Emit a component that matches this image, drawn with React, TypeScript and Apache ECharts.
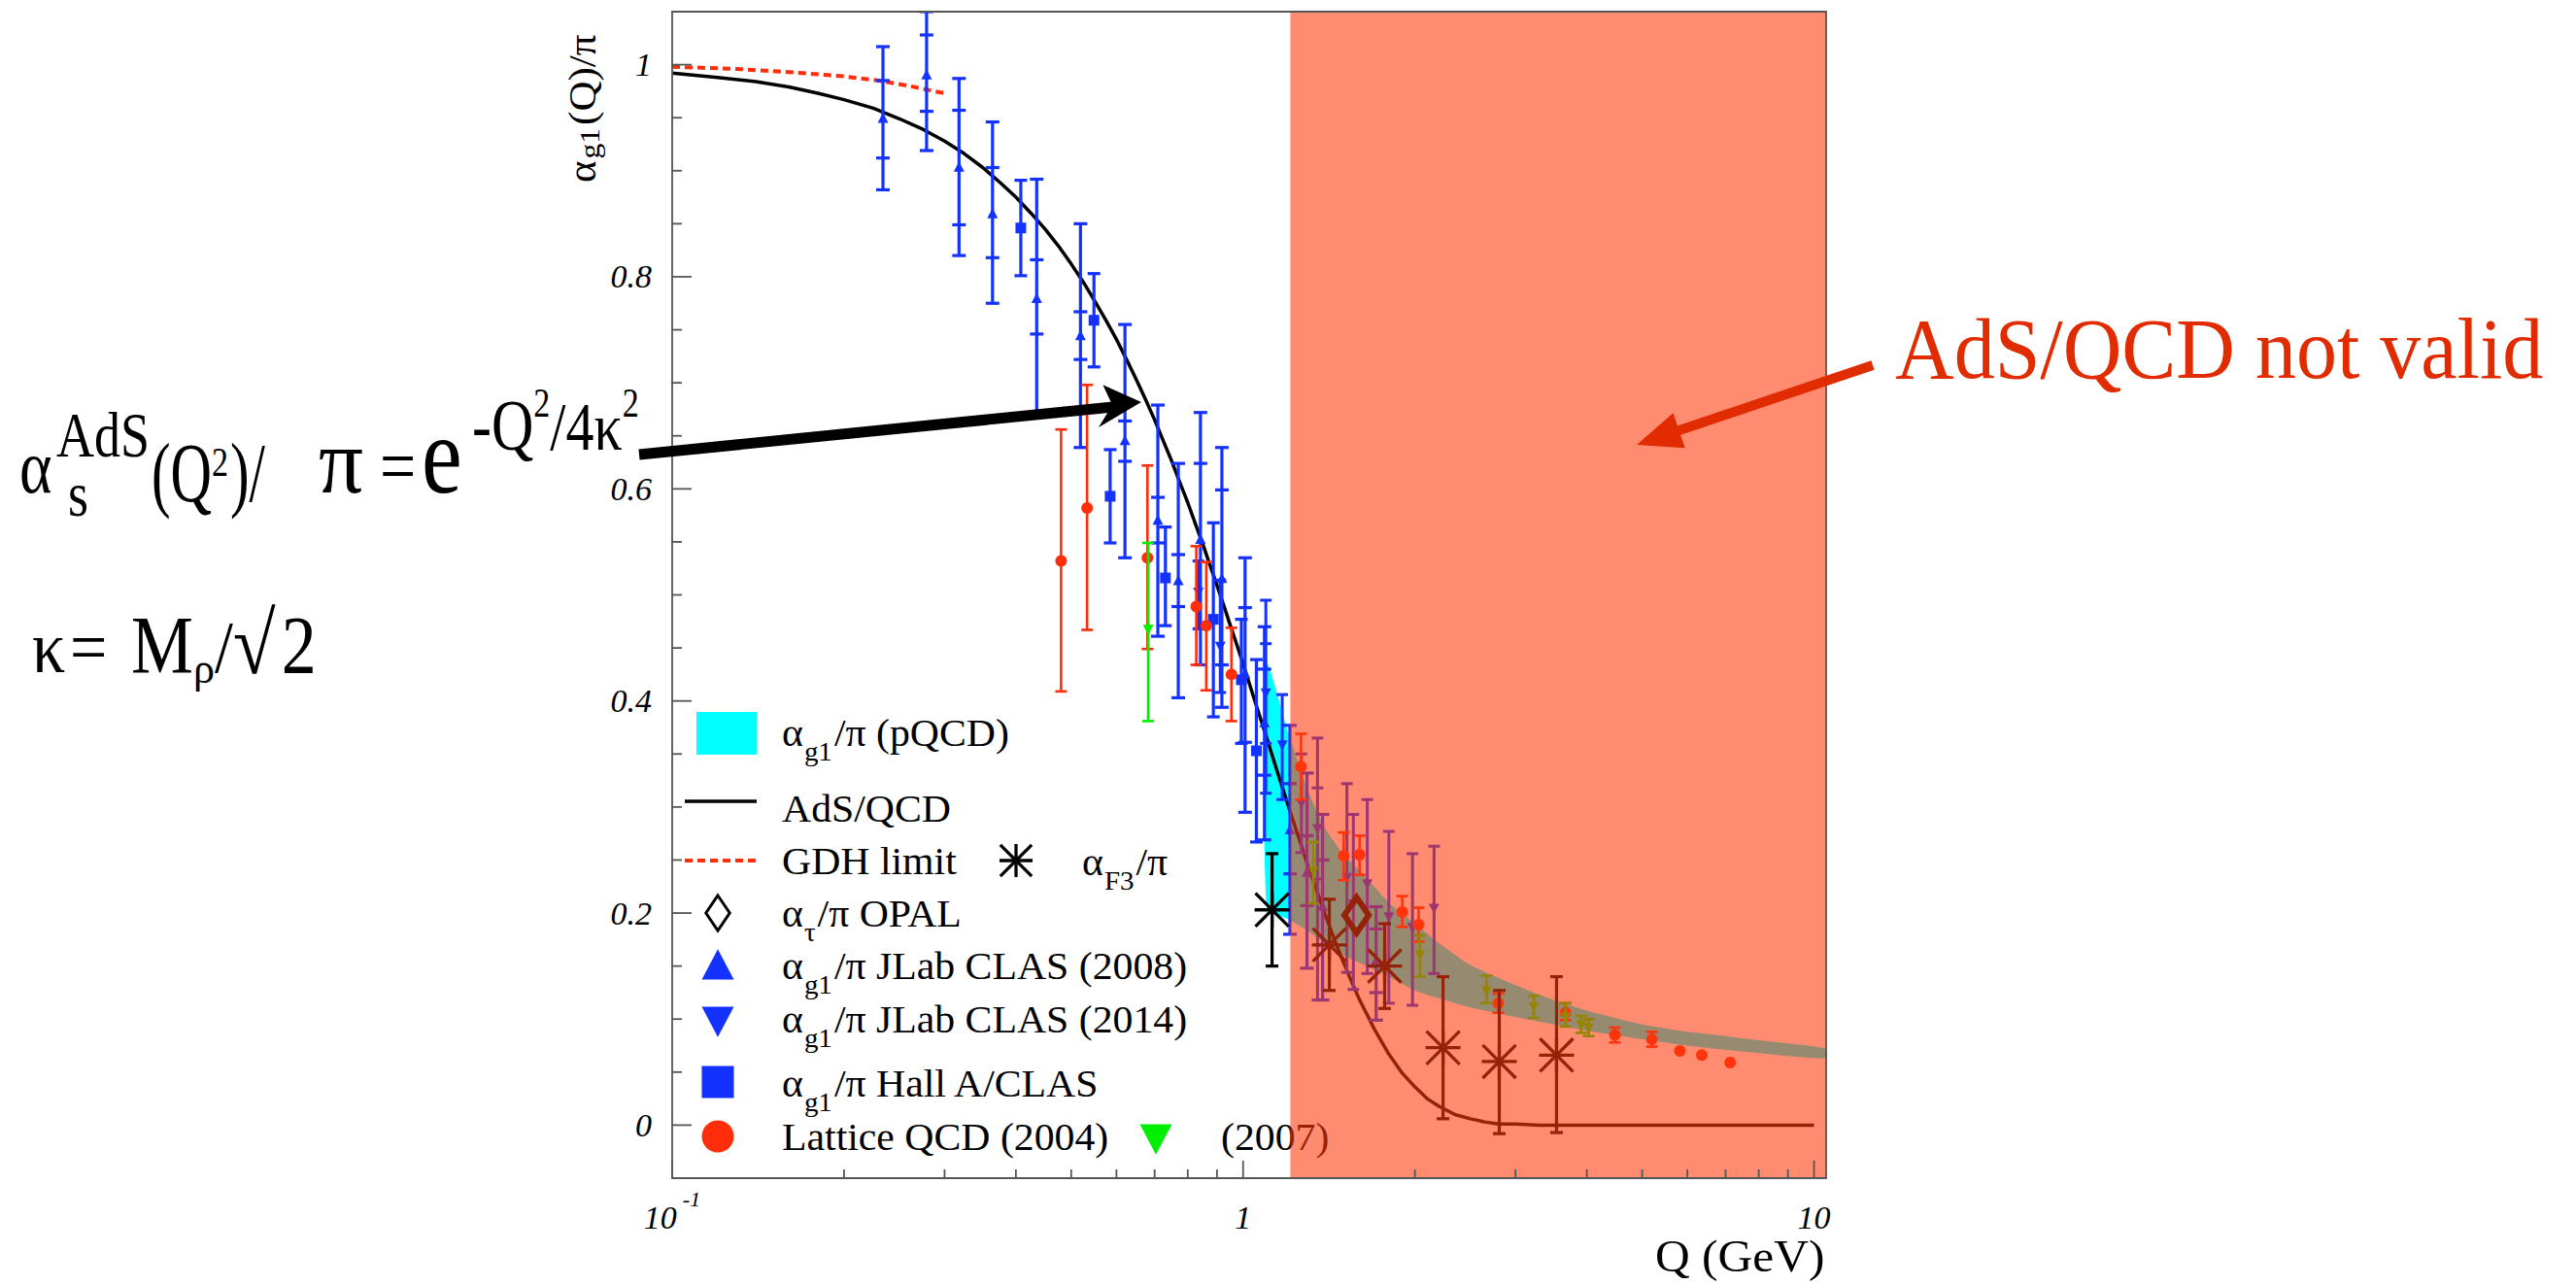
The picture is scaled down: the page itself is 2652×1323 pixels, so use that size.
import React, { useEffect, useRef } from 'react';
import * as echarts from 'echarts';

const SERIF = '"Liberation Serif", "Times New Roman", Times, serif';

// Axis extents: Q (GeV) on a log scale, alpha/pi linear
const X_MIN = 0.1;
const X_MAX = 10.5;
const Y_MIN = -0.05;
const Y_MAX = 1.05;

const xMajorTicks = [0.1, 1, 10];
const xMajorLabels = ['{m|10}{e|-1}', '{m|1}', '{m|10}'];
const xMinorTicks = [0.2, 0.3, 0.4, 0.5, 0.6, 0.7, 0.8, 0.9, 2, 3, 4, 5, 6, 7, 8, 9];
const yMajorTicks = [0, 0.2, 0.4, 0.6, 0.8, 1];
const yMajorLabels = ['0', '0.2', '0.4', '0.6', '0.8', '1'];
const yMinorTicks = [0.05, 0.1, 0.15, 0.25, 0.3, 0.35, 0.45, 0.5, 0.55, 0.65, 0.7, 0.75, 0.85, 0.9, 0.95];

// Q above which the AdS/QCD coupling is not valid
const adsInvalidFrom = 1.21;

// AdS/QCD coupling
const adsQ = [0.1, 0.12, 0.14, 0.16, 0.18, 0.2, 0.225, 0.25, 0.275, 0.3, 0.325, 0.35, 0.375, 0.4, 0.425, 0.45, 0.475, 0.5, 0.525, 0.55, 0.575, 0.6, 0.625, 0.65, 0.675, 0.7, 0.725, 0.75, 0.775, 0.8, 0.825, 0.85, 0.875, 0.9, 0.925, 0.95, 0.975, 1.0, 1.05, 1.1, 1.15, 1.2, 1.25, 1.3, 1.35, 1.4, 1.45, 1.5, 1.55, 1.6, 1.7, 1.8, 1.9, 2.0, 2.1, 2.2, 2.35, 2.5, 2.65, 2.8, 3.0, 3.3, 3.7, 4.5, 6, 10];
const adsAlpha = [0.992, 0.988, 0.984, 0.979, 0.973, 0.967, 0.959, 0.949, 0.939, 0.928, 0.916, 0.903, 0.889, 0.875, 0.86, 0.845, 0.829, 0.812, 0.795, 0.777, 0.759, 0.741, 0.722, 0.703, 0.684, 0.665, 0.645, 0.626, 0.606, 0.587, 0.567, 0.548, 0.528, 0.509, 0.49, 0.471, 0.453, 0.435, 0.399, 0.365, 0.332, 0.301, 0.272, 0.244, 0.219, 0.195, 0.173, 0.153, 0.135, 0.118, 0.09, 0.067, 0.049, 0.036, 0.025, 0.018, 0.01, 0.006, 0.003, 0.001, 0.001, 0, 0, 0, 0, 0];

// GDH sum-rule limit
const gdhQ = [0.1, 0.13, 0.16, 0.2, 0.23, 0.26, 0.3];
const gdhAlpha = [0.998, 0.996, 0.993, 0.989, 0.985, 0.98, 0.973];

// pQCD band
const pqcdQ = [1.1, 1.2, 1.3, 1.4, 1.5, 1.6, 1.8, 2.0, 2.25, 2.5, 3.0, 3.5, 4.0, 5.0, 6.0, 7.0, 8.0, 10.5];
const pqcdUpper = [0.435, 0.37, 0.315, 0.278, 0.255, 0.24, 0.21, 0.19, 0.168, 0.151, 0.132, 0.118, 0.108, 0.095, 0.088, 0.084, 0.08, 0.072];
const pqcdLower = [0.205, 0.194, 0.183, 0.17, 0.16, 0.153, 0.14, 0.127, 0.118, 0.111, 0.102, 0.095, 0.089, 0.081, 0.075, 0.071, 0.068, 0.063];

// JLab CLAS (2008): value, statistical band, total band
const clas08Q = [0.234, 0.279, 0.318, 0.364, 0.435, 0.519, 0.621, 0.709, 0.77, 0.842, 0.918, 1.008, 1.09, 1.208, 1.294, 1.378, 1.71];
const clas08V = [0.949, 0.99, 0.903, 0.859, 0.779, 0.744, 0.645, 0.57, 0.513, 0.552, 0.515, 0.425, 0.379, 0.278, 0.238, 0.206, 0.155];
const clas08StatLo = [0.912, 0.956, 0.849, 0.818, 0.746, 0.722, 0.626, 0.549, 0.489, 0.468, 0.434, 0.361, 0.33, 0.237, 0.207, 0.17, 0.125];
const clas08StatHi = [0.985, 1.028, 0.957, 0.903, 0.816, 0.767, 0.664, 0.592, 0.538, 0.624, 0.599, 0.488, 0.43, 0.322, 0.273, 0.25, 0.185];
const clas08Lo = [0.882, 0.919, 0.82, 0.775, 0.67, 0.639, 0.535, 0.461, 0.403, 0.434, 0.394, 0.295, 0.269, 0.18, 0.148, 0.118, 0.099];
const clas08Hi = [1.017, 1.05, 0.987, 0.946, 0.892, 0.85, 0.755, 0.679, 0.624, 0.672, 0.639, 0.535, 0.47, 0.377, 0.332, 0.293, 0.206];

// JLab CLAS (2014)
const clas14Q = [0.835, 0.912, 1.096, 1.171, 1.265, 1.35, 1.52, 1.56, 1.65, 1.8, 1.98, 2.16];
const clas14V = [0.503, 0.452, 0.408, 0.359, 0.304, 0.28, 0.234, 0.209, 0.228, 0.197, 0.187, 0.205];
const clas14StatLo = [null, null, 0.36, null, null, 0.232, null, null, null, null, null, null];
const clas14StatHi = [null, null, 0.454, null, null, 0.318, null, null, null, null, null, null];
const clas14Lo = [0.468, 0.408, 0.313, 0.307, 0.257, 0.118, 0.144, 0.128, 0.143, 0.115, 0.113, 0.143];
const clas14Hi = [0.532, 0.514, 0.495, 0.406, 0.35, 0.365, 0.322, 0.293, 0.307, 0.277, 0.256, 0.263];

// Hall A / CLAS
const hallQ = [0.408, 0.548, 0.585, 0.731, 0.887, 0.993, 1.055];
const hallV = [0.846, 0.759, 0.593, 0.516, 0.477, 0.42, 0.353];
const hallLo = [0.801, 0.715, 0.549, 0.471, 0.385, 0.36, 0.267];
const hallHi = [0.891, 0.803, 0.637, 0.564, 0.568, 0.477, 0.439];

// Lattice QCD (2004)
const lat04Q = [0.48, 0.533, 0.68, 0.828, 0.862, 0.954, 1.263, 1.5, 1.6, 1.9, 2.03, 2.8, 3.67, 4.48, 5.2, 5.82, 6.36, 7.13];
const lat04V = [0.532, 0.582, 0.535, 0.489, 0.471, 0.425, 0.338, 0.254, 0.255, 0.201, 0.189, 0.115, 0.106, 0.085, 0.081, 0.07, 0.066, 0.059];
const lat04Lo = [0.409, 0.467, 0.449, 0.434, 0.41, 0.381, 0.307, 0.231, 0.236, 0.187, 0.173, 0.106, 0.099, 0.078, 0.074, null, null, null];
const lat04Hi = [0.656, 0.698, 0.622, 0.546, 0.531, 0.469, 0.369, 0.276, 0.273, 0.216, 0.205, 0.124, 0.115, 0.092, 0.088, null, null, null];

// Lattice QCD (2007)
const lat07Q = [0.682, 1.327, 2.04, 2.67, 3.23, 3.67, 3.91, 4.03];
const lat07V = [0.468, 0.24, 0.161, 0.127, 0.112, 0.102, 0.095, 0.092];
const lat07Lo = [0.381, 0.209, 0.14, 0.115, 0.101, 0.093, 0.087, 0.084];
const lat07Hi = [0.549, 0.267, 0.179, 0.141, 0.122, 0.115, 0.103, 0.1];

// alpha_F3 / pi
const f3Q = [1.124, 1.416, 1.77, 2.24, 2.81, 3.54];
const f3V = [0.203, 0.17, 0.15, 0.073, 0.06, 0.066];
const f3Lo = [0.15, 0.127, 0.11, 0.006, -0.008, -0.007];
const f3Hi = [0.256, 0.213, 0.19, 0.14, 0.127, 0.14];

// alpha_tau / pi from OPAL
const opalQ = [1.58];
const opalV = [0.198];

const BLUE = '#1432ff';
const RED = '#ff2d0a';
const GREEN = '#00ee00';
const CYAN = '#00ffff';
const BLACK = '#000000';
const OVERLAY = 'rgba(255, 58, 12, 0.59)';
const FRAME = '#555555';
const NOTE_RED = '#e12b00';

let measureCtx: CanvasRenderingContext2D | null = null;
function textWidth(t: string, fs: number, italic: boolean) {
  if (!measureCtx) measureCtx = document.createElement('canvas').getContext('2d');
  if (!measureCtx) return t.length * fs * 0.5;
  measureCtx.font = `${italic ? 'italic ' : ''}${fs}px ${SERIF}`;
  return measureCtx.measureText(t).width;
}

interface Piece { t: string; fs: number; dy?: number; dx?: number; sy?: number; sx?: number }
interface RunOpts { sx?: number; sy?: number; fill?: string; z?: number; italic?: boolean }

// Lays out a run of text pieces along a common baseline
function textRun(x0: number, base: number, pieces: Piece[], o: RunOpts = {}) {
  const out: any[] = [];
  let x = x0;
  for (const p of pieces) {
    const sx = p.sx ?? o.sx ?? 1;
    x += p.dx ?? 0;
    out.push({
      type: 'text',
      x,
      y: base + (p.dy ?? 0),
      scaleX: sx,
      scaleY: p.sy ?? o.sy ?? 1,
      z: o.z ?? 100,
      silent: true,
      style: {
        text: p.t,
        x: 0,
        y: -0.34 * p.fs,
        fontSize: p.fs,
        fontFamily: SERIF,
        fontStyle: o.italic ? 'italic' : 'normal',
        fill: o.fill ?? BLACK,
        align: 'left',
        verticalAlign: 'middle',
      },
    });
    x += textWidth(p.t, p.fs, !!o.italic) * sx;
  }
  return out;
}

type MarkerKind = 'up' | 'down' | 'square' | 'circle' | 'star' | 'diamond';

function markerEls(kind: MarkerKind, cx: number, cy: number, size: number, color: string, lw: number): any[] {
  const seg = (x1: number, y1: number, x2: number, y2: number) => ({
    type: 'line',
    shape: { x1, y1, x2, y2 },
    style: { stroke: color, lineWidth: lw },
  });
  switch (kind) {
    case 'up': {
      const h = size * 0.95;
      return [{ type: 'polygon', shape: { points: [[cx, cy - 0.6 * h], [cx - size / 2, cy + 0.4 * h], [cx + size / 2, cy + 0.4 * h]] }, style: { fill: color } }];
    }
    case 'down': {
      const h = size * 0.95;
      return [{ type: 'polygon', shape: { points: [[cx - size / 2, cy - 0.4 * h], [cx + size / 2, cy - 0.4 * h], [cx, cy + 0.6 * h]] }, style: { fill: color } }];
    }
    case 'square':
      return [{ type: 'rect', shape: { x: cx - size / 2, y: cy - size / 2, width: size, height: size }, style: { fill: color } }];
    case 'circle':
      return [{ type: 'circle', shape: { cx, cy, r: size / 2 }, style: { fill: color } }];
    case 'star': {
      const r = size;
      const d = size * 0.95;
      return [seg(cx - r, cy, cx + r, cy), seg(cx, cy - r, cx, cy + r), seg(cx - d, cy - d, cx + d, cy + d), seg(cx - d, cy + d, cx + d, cy - d)];
    }
    case 'diamond': {
      const hh = size / 2;
      const hw = hh * 0.68;
      return [{ type: 'polygon', shape: { points: [[cx, cy - hh], [cx + hw, cy], [cx, cy + hh], [cx - hw, cy]] }, style: { fill: 'none', stroke: color, lineWidth: lw, lineJoin: 'miter' } }];
    }
  }
  return [];
}

interface ErrStyle { color: string; lw: number; cap: number; size: number; markerLw?: number }

// Points with vertical error bars (total, plus optional inner statistical ticks)
function errorSeries(
  name: string,
  q: number[],
  v: number[],
  lo: (number | null)[] | null,
  hi: (number | null)[] | null,
  sLo: (number | null)[] | null,
  sHi: (number | null)[] | null,
  kind: MarkerKind,
  st: ErrStyle,
) {
  return {
    type: 'custom',
    name,
    z: 4,
    clip: true,
    silent: true,
    data: q.map((x, i) => [x, v[i]]),
    renderItem: (params: any, api: any) => {
      const i = params.dataIndex;
      const x = q[i];
      const c = api.coord([x, v[i]]);
      const kids: any[] = [];
      const line = (x1: number, y1: number, x2: number, y2: number) => ({
        type: 'line',
        shape: { x1, y1, x2, y2 },
        style: { stroke: st.color, lineWidth: st.lw },
      });
      const l = lo ? lo[i] : null;
      const h = hi ? hi[i] : null;
      if (l != null && h != null) {
        const pl = api.coord([x, l]);
        const ph = api.coord([x, h]);
        kids.push(line(pl[0], pl[1], ph[0], ph[1]));
        kids.push(line(pl[0] - st.cap / 2, pl[1], pl[0] + st.cap / 2, pl[1]));
        kids.push(line(ph[0] - st.cap / 2, ph[1], ph[0] + st.cap / 2, ph[1]));
      }
      const a = sLo ? sLo[i] : null;
      const b = sHi ? sHi[i] : null;
      if (a != null && b != null) {
        const pa = api.coord([x, a]);
        const pb = api.coord([x, b]);
        kids.push(line(pa[0] - st.cap / 2, pa[1], pa[0] + st.cap / 2, pa[1]));
        kids.push(line(pb[0] - st.cap / 2, pb[1], pb[0] + st.cap / 2, pb[1]));
      }
      kids.push(...markerEls(kind, c[0], c[1], st.size, st.color, st.markerLw ?? st.lw));
      return { type: 'group', children: kids };
    },
  };
}

function fmtX(v: number) {
  const i = xMajorTicks.findIndex((t) => Math.abs(v - t) < 1e-6 * t);
  return i >= 0 ? xMajorLabels[i] : '';
}
function fmtY(v: number) {
  const i = yMajorTicks.findIndex((t) => Math.abs(v - t) < 1e-6);
  return i >= 0 ? yMajorLabels[i] : '';
}

function buildOption() {
  const withZ = (els: any[], z: number) => els.map((e) => ({ ...e, z, silent: true }));

  const legend: any[] = [
    { type: 'rect', z: 1, shape: { x: 717, y: 733, width: 62, height: 44 }, style: { fill: CYAN } },
    { type: 'line', z: 1, shape: { x1: 705, y1: 825, x2: 779, y2: 825 }, style: { stroke: BLACK, lineWidth: 3.5 } },
    { type: 'line', z: 1, shape: { x1: 705, y1: 886, x2: 779, y2: 886 }, style: { stroke: RED, lineWidth: 4, lineDash: [8, 5] } },
    ...withZ(markerEls('star', 1046, 886, 17, BLACK, 3.3), 1),
    ...withZ(markerEls('diamond', 739, 940, 36, BLACK, 3), 1),
    ...withZ(markerEls('up', 739, 996, 33, BLUE, 1), 1),
    ...withZ(markerEls('down', 739, 1049, 33, BLUE, 1), 1),
    ...withZ(markerEls('square', 739, 1114, 33, BLUE, 1), 1),
    ...withZ(markerEls('circle', 739, 1170, 33, RED, 1), 1),
    ...withZ(markerEls('down', 1190, 1170, 33, GREEN, 1), 1),
  ];
  const lg = { sx: 1.16, sy: 1.1, z: 1 };
  const sub = (t: string): Piece => ({ t, fs: 25, dy: 15, dx: 1 });
  const legendText = [
    ...textRun(805, 768, [{ t: 'α', fs: 36 }, sub('g1'), { t: '/π (pQCD)', fs: 36, dx: 2 }], lg),
    ...textRun(805, 846, [{ t: 'AdS/QCD', fs: 36 }], lg),
    ...textRun(805, 900, [{ t: 'GDH limit', fs: 36 }], lg),
    ...textRun(1114, 901, [{ t: 'α', fs: 36 }, sub('F3'), { t: '/π', fs: 36, dx: 2 }], lg),
    ...textRun(805, 954, [{ t: 'α', fs: 36 }, sub('τ'), { t: '/π OPAL', fs: 36, dx: 2 }], lg),
    ...textRun(805, 1008, [{ t: 'α', fs: 36 }, sub('g1'), { t: '/π JLab CLAS (2008)', fs: 36, dx: 2 }], lg),
    ...textRun(805, 1063, [{ t: 'α', fs: 36 }, sub('g1'), { t: '/π JLab CLAS (2014)', fs: 36, dx: 2 }], lg),
    ...textRun(805, 1129, [{ t: 'α', fs: 36 }, sub('g1'), { t: '/π Hall A/CLAS', fs: 36, dx: 2 }], lg),
    ...textRun(805, 1184, [{ t: 'Lattice QCD (2004)', fs: 36 }], lg),
    ...textRun(1257, 1184, [{ t: '(2007)', fs: 36 }], lg),
  ];

  // Formula for the AdS/QCD coupling
  const f1 = { sy: 1.22 };
  const formula = [
    ...textRun(20, 507, [{ t: 'α', fs: 64 }], f1),
    ...textRun(58, 470, [{ t: 'AdS', fs: 54 }], f1),
    ...textRun(70, 531, [{ t: 's', fs: 54 }], f1),
    ...textRun(156, 516, [{ t: '(Q', fs: 70, sx: 0.84 }, { t: '2', fs: 34, dy: -26 }, { t: ')/', fs: 70, dx: 2, sx: 0.84 }], { sy: 1.25 }),
    ...textRun(328, 507, [{ t: 'π', fs: 76, sx: 1.2 }], { sy: 1.25 }),
    ...textRun(391, 507, [{ t: '=', fs: 66 }], f1),
    ...textRun(434, 508, [{ t: 'e', fs: 94 }], f1),
    ...textRun(486, 463, [{ t: '-Q', fs: 60 }, { t: '2', fs: 34, dy: -34 }, { t: '/4κ', fs: 58 }, { t: '2', fs: 34, dy: -34 }], f1),
    ...textRun(33, 693, [{ t: 'κ', fs: 68 }], { sy: 1.12 }),
    ...textRun(72, 693, [{ t: '=', fs: 68 }], { sy: 1.12 }),
    ...textRun(135, 693, [{ t: 'M', fs: 72, sy: 1.18 }, { t: 'ρ', fs: 44, dy: 10 }, { t: '/', fs: 68, sy: 1.12 }, { t: '√', fs: 80, sy: 1.12 }, { t: '2', fs: 72, sy: 1.18, dx: 6 }]),
  ];

  const arrows: any[] = [
    { type: 'line', z: 100, shape: { x1: 658, y1: 468, x2: 1146, y2: 419 }, style: { stroke: BLACK, lineWidth: 11 } },
    { type: 'polygon', z: 100, shape: { points: [[1175, 414], [1135.4, 396.3], [1145.1, 417], [1131, 440.1]] }, style: { fill: BLACK } },
    { type: 'line', z: 100, shape: { x1: 1928, y1: 376, x2: 1726, y2: 444 }, style: { stroke: NOTE_RED, lineWidth: 10 } },
    { type: 'polygon', z: 100, shape: { points: [[1685, 458], [1734.7, 461.3], [1722.5, 425.3]] }, style: { fill: NOTE_RED } },
  ];

  const titles = [
    {
      type: 'group',
      x: 613,
      y: 188,
      rotation: Math.PI / 2,
      z: 100,
      children: textRun(0, 0, [{ t: 'α', fs: 41 }, { t: 'g1', fs: 30, dy: 4, dx: 2 }, { t: '(Q)/π', fs: 41, dx: 3 }], { sx: 1.05 }),
    },
    ...textRun(1704, 1309, [{ t: 'Q (GeV)', fs: 45 }], { sx: 1.1, sy: 1.05 }),
    ...textRun(1951, 389, [{ t: 'AdS/QCD not valid', fs: 84 }], { fill: NOTE_RED, sy: 1.05 }),
  ];

  return {
    animation: false,
    backgroundColor: '#ffffff',
    grid: { left: 692, top: 12, width: 1188, height: 1201, containLabel: false, outerBoundsMode: 'none', show: false },
    xAxis: {
      type: 'log',
      logBase: 10,
      min: X_MIN,
      max: X_MAX,
      axisLine: { show: false },
      axisTick: { show: false },
      minorTick: { show: false },
      splitLine: { show: false },
      axisLabel: {
        formatter: fmtX,
        margin: 10,
        color: BLACK,
        rich: {
          m: { fontSize: 34, fontStyle: 'italic', fontFamily: SERIF, color: BLACK, lineHeight: 60 },
          e: { fontSize: 22, fontStyle: 'italic', fontFamily: SERIF, color: BLACK, lineHeight: 21, verticalAlign: 'top', padding: [0, 0, 0, 6] },
        },
      },
    },
    yAxis: {
      type: 'value',
      min: Y_MIN,
      max: Y_MAX,
      interval: 0.05,
      axisLine: { show: false },
      axisTick: { show: false },
      splitLine: { show: false },
      axisLabel: { formatter: fmtY, margin: 21, fontSize: 34, fontStyle: 'italic', fontFamily: SERIF, color: BLACK },
    },
    series: [
      {
        type: 'custom',
        name: 'pQCD band',
        z: 2,
        silent: true,
        data: [[pqcdQ[0], pqcdUpper[0]]],
        renderItem: (_p: any, api: any) => {
          const pts: number[][] = [];
          for (let i = 0; i < pqcdQ.length; i++) pts.push(api.coord([pqcdQ[i], pqcdUpper[i]]));
          for (let i = pqcdQ.length - 1; i >= 0; i--) pts.push(api.coord([pqcdQ[i], pqcdLower[i]]));
          return { type: 'polygon', shape: { points: pts, smooth: 0.2 }, style: { fill: CYAN } };
        },
      },
      {
        type: 'line',
        name: 'AdS/QCD',
        z: 3,
        silent: true,
        showSymbol: false,
        symbol: 'none',
        smooth: false,
        data: adsQ.map((q, i) => [q, adsAlpha[i]]),
        lineStyle: { color: BLACK, width: 3.5, join: 'round' },
      },
      {
        type: 'line',
        name: 'GDH limit',
        z: 3,
        silent: true,
        showSymbol: false,
        symbol: 'none',
        smooth: false,
        data: gdhQ.map((q, i) => [q, gdhAlpha[i]]),
        lineStyle: { color: RED, width: 4, type: [8, 5] },
      },
      errorSeries('JLab CLAS (2008)', clas08Q, clas08V, clas08Lo, clas08Hi, clas08StatLo, clas08StatHi, 'up', { color: BLUE, lw: 3.2, cap: 14, size: 11 }),
      errorSeries('JLab CLAS (2014)', clas14Q, clas14V, clas14Lo, clas14Hi, clas14StatLo, clas14StatHi, 'down', { color: BLUE, lw: 3, cap: 12, size: 11 }),
      errorSeries('Hall A/CLAS', hallQ, hallV, hallLo, hallHi, null, null, 'square', { color: BLUE, lw: 3.2, cap: 13, size: 11 }),
      errorSeries('Lattice QCD (2004)', lat04Q, lat04V, lat04Lo, lat04Hi, null, null, 'circle', { color: RED, lw: 2.6, cap: 12, size: 12 }),
      errorSeries('Lattice QCD (2007)', lat07Q, lat07V, lat07Lo, lat07Hi, null, null, 'down', { color: GREEN, lw: 2.6, cap: 12, size: 11 }),
      errorSeries('alpha_F3', f3Q, f3V, f3Lo, f3Hi, null, null, 'star', { color: BLACK, lw: 3.2, cap: 13, size: 18, markerLw: 3.3 }),
      errorSeries('OPAL', opalQ, opalV, null, null, null, null, 'diamond', { color: BLACK, lw: 3, cap: 0, size: 37, markerLw: 6 }),
      {
        type: 'custom',
        name: 'not valid region',
        z: 50,
        silent: true,
        data: [[adsInvalidFrom, Y_MAX]],
        renderItem: (_p: any, api: any) => {
          const a = api.coord([adsInvalidFrom, Y_MAX]);
          const b = api.coord([X_MAX, Y_MIN]);
          return { type: 'rect', shape: { x: a[0], y: a[1], width: b[0] - a[0], height: b[1] - a[1] }, style: { fill: OVERLAY } };
        },
      },
      {
        type: 'custom',
        name: 'frame',
        z: 60,
        silent: true,
        data: [[1, 0.5]],
        renderItem: (_p: any, api: any) => {
          const tl = api.coord([X_MIN, Y_MAX]);
          const br = api.coord([X_MAX, Y_MIN]);
          const ls = { stroke: FRAME, lineWidth: 1.8 };
          const kids: any[] = [
            { type: 'rect', shape: { x: tl[0], y: tl[1], width: br[0] - tl[0], height: br[1] - tl[1] }, style: { fill: 'none', stroke: FRAME, lineWidth: 1.8 } },
          ];
          for (const q of xMinorTicks) {
            const p = api.coord([q, Y_MIN]);
            kids.push({ type: 'line', shape: { x1: p[0], y1: p[1], x2: p[0], y2: p[1] - 9 }, style: ls });
          }
          for (const q of xMajorTicks) {
            const p = api.coord([q, Y_MIN]);
            kids.push({ type: 'line', shape: { x1: p[0], y1: p[1], x2: p[0], y2: p[1] - 18 }, style: ls });
          }
          for (const v of yMinorTicks) {
            const p = api.coord([X_MIN, v]);
            kids.push({ type: 'line', shape: { x1: p[0], y1: p[1], x2: p[0] + 10, y2: p[1] }, style: ls });
          }
          for (const v of yMajorTicks) {
            const p = api.coord([X_MIN, v]);
            kids.push({ type: 'line', shape: { x1: p[0], y1: p[1], x2: p[0] + 20, y2: p[1] }, style: ls });
          }
          return { type: 'group', children: kids };
        },
      },
    ],
    graphic: { elements: [...legend, ...legendText, ...formula, ...arrows, ...titles] },
  };
}

export default function App() {
  const ref = useRef<HTMLDivElement>(null);
  useEffect(() => {
    if (!ref.current) return;
    const chart = echarts.init(ref.current, null, { renderer: 'svg' });
    chart.setOption(buildOption() as any);
    return () => chart.dispose();
  }, []);
  return <div ref={ref} style={{ position: 'absolute', left: 0, top: 0, width: 2652, height: 1323, background: '#ffffff' }} />;
}
